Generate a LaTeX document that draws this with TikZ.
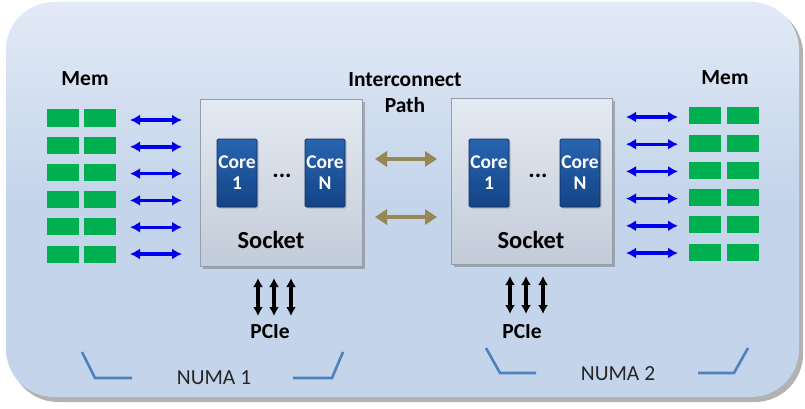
\documentclass[tikz,border=0pt]{standalone}
\usepackage{fontspec}
\setmainfont{Carlito}
\usetikzlibrary{shadows,arrows.meta}
\definecolor{bgtop}{RGB}{226,234,246}
\definecolor{bgbot}{RGB}{196,212,234}
\definecolor{memgreen}{RGB}{0,176,80}
\definecolor{linkblue}{RGB}{0,0,235}
\definecolor{gold}{RGB}{150,135,85}
\definecolor{numablue}{RGB}{79,129,189}
\definecolor{socktop}{RGB}{228,234,242}
\definecolor{sockbot}{RGB}{194,203,216}
\definecolor{sockedge}{RGB}{150,158,170}
\definecolor{coretop}{RGB}{40,100,175}
\definecolor{corebot}{RGB}{20,68,135}
\definecolor{coreedge}{RGB}{15,45,95}
\tikzset{
  membox/.style={fill=memgreen, draw=none, minimum width=32pt, minimum height=17pt, inner sep=0pt},
  sockbox/.style={top color=socktop, bottom color=sockbot, draw=sockedge, line width=1pt,
    minimum width=162pt, minimum height=166pt, inner sep=0pt,
    drop shadow={shadow xshift=2.5pt, shadow yshift=-2.5pt, fill=black!55, opacity=0.5}},
  corebox/.style={top color=coretop, bottom color=corebot, draw=coreedge, line width=0.8pt,
    rounded corners=1.5pt,
    minimum width=40pt, minimum height=68pt, inner sep=0pt, text=white, align=center,
    font=\bfseries\fontsize{19.5}{21}\selectfont,
    drop shadow={shadow xshift=1.5pt, shadow yshift=-1.5pt, fill=black!50, opacity=0.4}},
  lbl/.style={font=\bfseries\fontsize{21.5}{26}\selectfont, inner sep=0pt, align=center},
  socklbl/.style={font=\bfseries\fontsize{24.5}{26}\selectfont, inner sep=0pt},
  numalbl/.style={font=\fontsize{21.5}{24}\selectfont, inner sep=0pt, text=black!85},
  memlink/.style={{Latex[length=10pt,width=11pt]}-{Latex[length=10pt,width=11pt]}, linkblue, line width=3.4pt},
  goldlink/.style={{Triangle[length=12pt,width=15pt]}-{Triangle[length=12pt,width=15pt]}, gold, line width=4.5pt},
  pcielink/.style={{Latex[length=9pt,width=10pt]}-{Latex[length=9pt,width=10pt]}, black, line width=3.2pt},
  bracket/.style={numablue, line width=2.6pt}
}
\begin{document}
\begin{tikzpicture}[x=1pt,y=-1pt]
\useasboundingbox (0,0) rectangle (805,409);
% background panel
\fill[black!30, rounded corners=48pt] (10,6) rectangle (803,402);
\shade[top color=bgtop, bottom color=bgbot, middle color=bgbot, rounded corners=48pt] (6,2) rectangle (799,397);

% memory modules
\foreach \i in {0,...,5}{
  \node[membox] (mla\i) at (63,{118+27.2*\i}) {};
  \node[membox] (mlb\i) at (100,{118+27.2*\i}) {};
  \node[membox] (mra\i) at (705,{116+27.2*\i}) {};
  \node[membox] (mrb\i) at (742.5,{116+27.2*\i}) {};
  \coordinate (al\i) at (130,{120+26.8*\i});
  \coordinate (bl\i) at (182,{120+26.8*\i});
  \coordinate (ar\i) at (626,{117+27.2*\i});
  \coordinate (br\i) at (678,{117+27.2*\i});
  \draw[memlink] (al\i) -- (bl\i);
  \draw[memlink] (ar\i) -- (br\i);
}
\node[lbl] (meml) at (85,79) {Mem};
\node[lbl] (memr) at (725,78) {Mem};

% sockets
\node[sockbox] (sockl) at (281,183) {};
\node[sockbox, minimum width=161pt, minimum height=165pt] (sockr) at (531.5,181.5) {};
\node[corebox] (cl1) at (237,173) {Core\\1};
\node[corebox] (clN) at (325,173) {Core\\N};
\node[corebox] (cr1) at (489,173) {Core\\1};
\node[corebox] (crN) at (580,173) {Core\\N};
\node[lbl, font=\bfseries\fontsize{24}{24}\selectfont] (dotl) at (282,176) {...};
\node[lbl, font=\bfseries\fontsize{24}{24}\selectfont] (dotr) at (538,176) {...};
\node[socklbl] (sockltext) at (271,240) {Socket};
\node[socklbl] (sockrtext) at (531,240) {Socket};

% interconnect
\node[lbl] (inter) at (405,93) {Interconnect\\Path};
\coordinate (ga1) at (375,159);
\coordinate (gb1) at (437,159);
\coordinate (ga2) at (375,217);
\coordinate (gb2) at (437,217);
\draw[goldlink] (ga1) -- (gb1);
\draw[goldlink] (ga2) -- (gb2);

% PCIe
\foreach \x [count=\k] in {258,274,291}{
  \coordinate (pl\k t) at (\x,278);
  \coordinate (pl\k b) at (\x,316);
  \draw[pcielink] (pl\k t) -- (pl\k b);
}
\foreach \x [count=\k] in {510,526,543}{
  \coordinate (pr\k t) at (\x,276);
  \coordinate (pr\k b) at (\x,314);
  \draw[pcielink] (pr\k t) -- (pr\k b);
}
\node[lbl] (pciel) at (270,332) {PCIe};
\node[lbl] (pcier) at (522,332) {PCIe};

% NUMA brackets
\coordinate (n1a) at (82,352);
\coordinate (n1b) at (95,378);
\coordinate (n1c) at (132,378);
\coordinate (n1d) at (293,378);
\coordinate (n1e) at (332,378);
\coordinate (n1f) at (343,352);
\draw[bracket] (n1a) -- (n1b) -- (n1c);
\draw[bracket] (n1d) -- (n1e) -- (n1f);
\node[numalbl] (numa1) at (214,378) {NUMA 1};
\coordinate (n2a) at (486,348);
\coordinate (n2b) at (500,373);
\coordinate (n2c) at (536,373);
\coordinate (n2d) at (698,373);
\coordinate (n2e) at (734,373);
\coordinate (n2f) at (748,348);
\draw[bracket] (n2a) -- (n2b) -- (n2c);
\draw[bracket] (n2d) -- (n2e) -- (n2f);
\node[numalbl] (numa2) at (618,374) {NUMA 2};
\end{tikzpicture}
\end{document}
